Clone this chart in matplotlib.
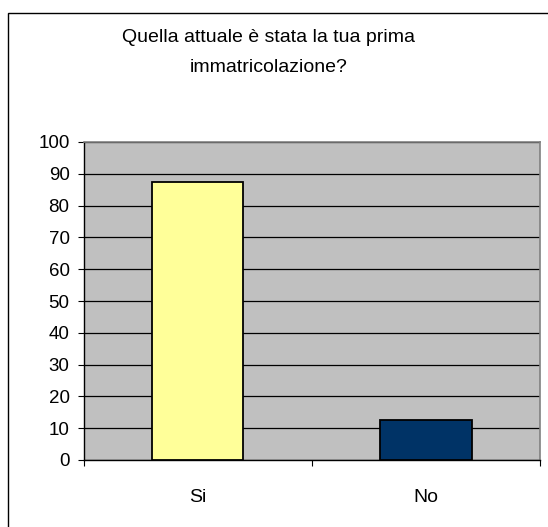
import numpy as np
import matplotlib
matplotlib.use("Agg")
import matplotlib.pyplot as plt
from matplotlib.patches import Rectangle

plt.rcParams['font.family'] = ['Liberation Sans', 'DejaVu Sans']

# data
categories = ["Si", "No"]
values = [87.5, 12.5]
bar_colors = ["#FFFF99", "#003366"]
title_lines = ["Quella attuale è stata la tua prima", "immatricolazione?"]
y_ticks = list(range(0, 101, 10))

fig = plt.figure(figsize=(5.48, 5.27), dpi=100)
W, H = 548, 527

# outer chart frame (cut off on the right and bottom like the original)
fig.patches.append(Rectangle((8 / W, -0.05), 1.1, 1 - 13 / H + 0.05,
                             transform=fig.transFigure, fill=False,
                             edgecolor="#000000", linewidth=1.0))

ax = fig.add_axes([83.5 / W, 1 - 460 / H, (540 - 83.5) / W, (460 - 142) / H])
ax.set_facecolor("#C0C0C0")

x = np.arange(len(categories))
ax.bar(x, values, width=0.4, color=bar_colors, edgecolor="black",
       linewidth=1.3, zorder=3)

ax.set_xlim(-0.5, len(categories) - 0.5)
ax.set_ylim(0, 100)
ax.set_yticks(y_ticks)
ax.yaxis.grid(True, color="#000000", linewidth=0.9, zorder=1)
ax.set_axisbelow(True)
ax.tick_params(axis="y", direction="out", length=4, width=0.8,
               labelsize=13.5, pad=6, color="black")

# category labels between boundary ticks
ax.set_xticks(x)
ax.set_xticklabels(categories, fontsize=14)
ax.tick_params(axis="x", which="major", length=0, pad=21)
ax.set_xticks(np.arange(-0.5, len(categories), 1.0), minor=True)
ax.tick_params(axis="x", which="minor", direction="out", length=4,
               width=0.8, color="black")

for side in ["left", "bottom"]:
    ax.spines[side].set_color("black")
    ax.spines[side].set_linewidth(1.0)
for side in ["top", "right"]:
    ax.spines[side].set_color("#808080")
    ax.spines[side].set_linewidth(1.2)

fig.text(269 / W, 1 - 38 / H, title_lines[0], ha="center", va="center",
         fontsize=14)
fig.text(269 / W, 1 - 68 / H, title_lines[1], ha="center", va="center",
         fontsize=14)

fig.savefig("out.png", dpi=100, facecolor="white")
